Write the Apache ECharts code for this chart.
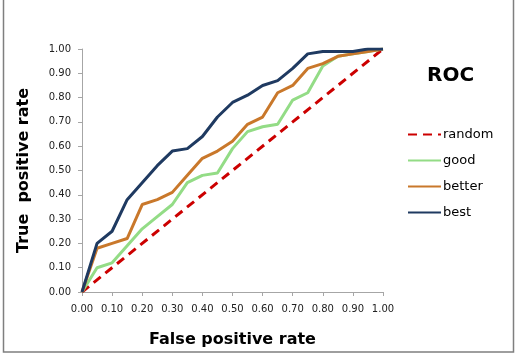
<!DOCTYPE html>
<html>
<head>
<meta charset="utf-8">
<script src="https://cdn.jsdelivr.net/npm/echarts@6/dist/echarts.min.js"></script>
<style>
  html, body { margin: 0; padding: 0; background: #fff; }
  #roc { width: 519px; height: 358px; }
</style>
</head>
<body>
<div id="roc"></div>
<script>
// false positive rate (x), every 0.05
var fpr    = [0, 0.05, 0.10, 0.15, 0.20, 0.25, 0.30, 0.35, 0.40, 0.45, 0.50, 0.55, 0.60, 0.65, 0.70, 0.75, 0.80, 0.85, 0.90, 0.95, 1.00];
var good   = [0, 0.10, 0.12, 0.19, 0.26, 0.31, 0.36, 0.45, 0.48, 0.49, 0.59, 0.66, 0.68, 0.69, 0.79, 0.82, 0.93, 0.97, 0.98, 0.99, 1.00];
var better = [0, 0.18, 0.20, 0.22, 0.36, 0.38, 0.41, 0.48, 0.55, 0.58, 0.62, 0.69, 0.72, 0.82, 0.85, 0.92, 0.94, 0.97, 0.98, 0.99, 1.00];
var best   = [0, 0.20, 0.25, 0.38, 0.45, 0.52, 0.58, 0.59, 0.64, 0.72, 0.78, 0.81, 0.85, 0.87, 0.92, 0.98, 0.99, 0.99, 0.99, 1.00, 1.00];
// random classifier: diagonal
var randomX = [0, 1];
var randomY = [0, 1];

function pairs(xs, ys) {
    return xs.map(function (x, i) { return [x, ys[i]]; });
}

var myChart = echarts.init(document.getElementById('roc'));

var tickFmt = function (v) { return v.toFixed(2); };

var option = {
    animation: false,
    backgroundColor: '#fff',
    title: {
        text: 'ROC',
        left: 422,
        top: 61,
        textStyle: { fontFamily: 'DejaVu Sans', fontSize: 20, fontWeight: 'bold', color: '#000' }
    },
    legend: {
        orient: 'vertical',
        left: 402,
        top: 123,
        itemWidth: 33,
        itemHeight: 14,
        itemGap: 13,
        itemStyle: { opacity: 0 },   // no marker, just the line
        data: ['random', 'good', 'better', 'best'],
        textStyle: { fontFamily: 'DejaVu Sans', fontSize: 13, color: '#000', padding: [0, 0, 0, -3] }
    },
    grid: {
        left: 82,
        right: 136,
        top: 49,
        bottom: 66,
        containLabel: false
    },
    xAxis: {
        type: 'value',
        min: 0,
        max: 1,
        interval: 0.1,
        name: 'False positive rate',
        nameLocation: 'middle',
        nameGap: 40,
        nameTextStyle: { fontFamily: 'DejaVu Sans', fontSize: 16, fontWeight: 'bold', color: '#000' },
        axisLine: { lineStyle: { color: '#a6a6a6', width: 1 } },
        axisTick: { show: true, length: 4, lineStyle: { color: '#a6a6a6' } },
        splitLine: { show: false },
        axisLabel: { formatter: tickFmt, margin: 12, fontFamily: 'DejaVu Sans', fontSize: 10, color: '#222' }
    },
    yAxis: {
        type: 'value',
        min: 0,
        max: 1,
        interval: 0.1,
        name: 'True  positive rate',
        nameLocation: 'middle',
        nameGap: 50,
        nameTextStyle: { fontFamily: 'DejaVu Sans', fontSize: 16, fontWeight: 'bold', color: '#000' },
        axisLine: { show: true, lineStyle: { color: '#a6a6a6', width: 1 } },
        axisTick: { show: true, length: 4, lineStyle: { color: '#a6a6a6' } },
        splitLine: { show: false },
        axisLabel: { formatter: tickFmt, margin: 11, fontFamily: 'DejaVu Sans', fontSize: 10, color: '#222' }
    },
    series: [
        {
            name: 'random',
            type: 'line',
            symbol: 'none',
            color: '#cc0000',
            lineStyle: { color: '#cc0000', width: 3, type: [9, 6] },
            data: pairs(randomX, randomY)
        },
        {
            name: 'good',
            type: 'line',
            symbol: 'none',
            color: '#93dc86',
            lineStyle: { color: '#93dc86', width: 3 },
            data: pairs(fpr, good)
        },
        {
            name: 'better',
            type: 'line',
            symbol: 'none',
            color: '#c9782b',
            lineStyle: { color: '#c9782b', width: 3 },
            data: pairs(fpr, better)
        },
        {
            name: 'best',
            type: 'line',
            symbol: 'none',
            color: '#1f3a61',
            lineStyle: { color: '#1f3a61', width: 3 },
            data: pairs(fpr, best)
        }
    ],
    graphic: [{
        type: 'rect',
        silent: true,
        shape: { x: 3.5, y: -10, width: 510, height: 362 },
        style: { fill: 'none', stroke: '#7f7f7f', lineWidth: 1.5 }
    }]
};

myChart.setOption(option);
</script>
</body>
</html>
